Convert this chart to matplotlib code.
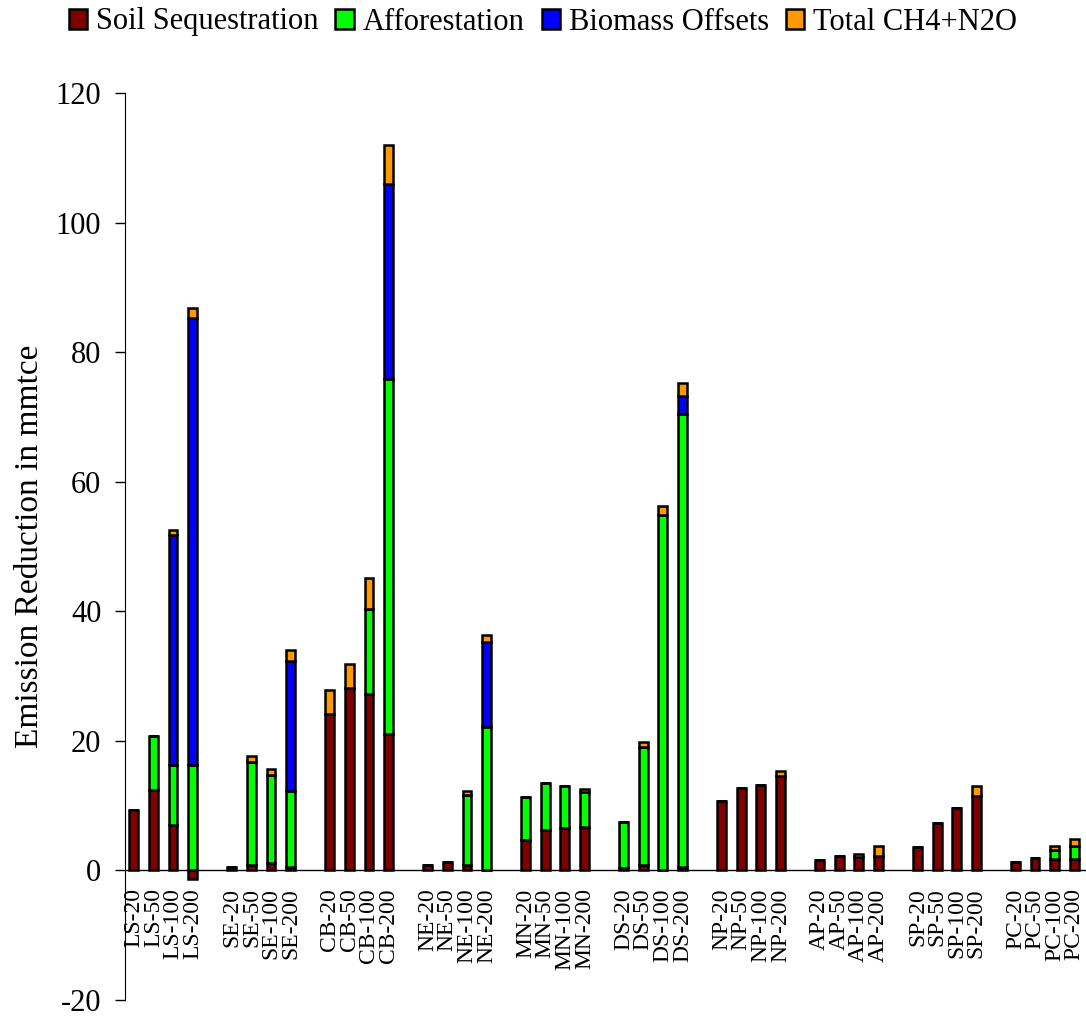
import numpy as np
import matplotlib
matplotlib.use("Agg")
import matplotlib.pyplot as plt

plt.rcParams['font.family'] = ['Liberation Serif', 'DejaVu Serif']
plt.rcParams['axes.unicode_minus'] = False

# regions and scenarios
regions = ['LS', 'SE', 'CB', 'NE', 'MN', 'DS', 'NP', 'AP', 'SP', 'PC']
scenarios = ['20', '50', '100', '200']

# values in mmtce, 4 per region
soil = [9.3, 12.4, 7.0, -1.4,
        0.6, 0.9, 1.1, 0.5,
        24.2, 28.1, 27.2, 21.1,
        0.9, 1.3, 0.8, 0.0,
        4.7, 6.3, 6.5, 6.7,
        0.3, 0.8, 0.0, 0.5,
        10.7, 12.7, 13.2, 14.6,
        1.6, 2.3, 2.1, 2.3,
        3.6, 7.3, 9.6, 11.5,
        1.3, 1.9, 1.7, 1.7]
afforestation = [0, 8.4, 9.2, 16.2,
                 0, 15.8, 13.6, 11.8,
                 0, 0, 13.1, 54.7,
                 0, 0, 10.8, 22.2,
                 6.7, 7.2, 6.5, 5.4,
                 7.1, 18.2, 54.8, 69.9,
                 0, 0, 0, 0,
                 0, 0, 0, 0,
                 0, 0, 0, 0,
                 0, 0, 1.5, 2.1]
biomass = [0, 0, 35.6, 69.0,
           0, 0, 0, 20.1,
           0, 0, 0, 30.1,
           0, 0, 0, 13.0,
           0, 0, 0, 0,
           0, 0, 0, 2.8,
           0, 0, 0, 0,
           0, 0, 0, 0,
           0, 0, 0, 0,
           0, 0, 0, 0]
ch4_n2o = [0, 0, 0.7, 1.6,
           0, 0.9, 1.0, 1.7,
           3.7, 3.8, 4.9, 6.0,
           0, 0, 0.7, 1.1,
           0, 0, 0, 0.5,
           0, 0.8, 1.5, 2.0,
           0, 0, 0, 0.8,
           0, 0, 0.5, 1.4,
           0, 0, 0, 1.5,
           0, 0, 0.6, 1.1]

series = [('Soil Sequestration', soil, '#800000'),
          ('Afforestation', afforestation, '#00ff00'),
          ('Biomass Offsets', biomass, '#0000ff'),
          ('Total CH4+N2O', ch4_n2o, '#ff9900')]

labels = [f'{r}-{s}' for r in regions for s in scenarios]
x = np.array([g * 5 + i for g in range(len(regions)) for i in range(len(scenarios))])

fig = plt.figure(figsize=(10.86, 10.19), dpi=100)
ax = fig.add_axes([0.115, 19 / 1019, 0.885, 907 / 1019])

# stack positives upward and negatives downward
pos_bottom = np.zeros(len(x))
neg_bottom = np.zeros(len(x))
for name, vals, col in series:
    v = np.array(vals, dtype=float)
    bottom = np.where(v >= 0, pos_bottom, neg_bottom)
    ax.bar(x, v, bottom=bottom, width=0.45, color=col, edgecolor='black',
           linewidth=1.8, label=name, zorder=3)
    pos_bottom += np.where(v >= 0, v, 0)
    neg_bottom += np.where(v < 0, v, 0)

ax.set_xlim(-0.46, 48.6)
ax.set_ylim(-20, 120)
ax.set_yticks(np.arange(-20, 121, 20))
ax.tick_params(axis='y', labelsize=22, length=7, width=1, direction='out', pad=10)

ax.spines['top'].set_visible(False)
ax.spines['right'].set_visible(False)
ax.spines['bottom'].set_position(('data', 0))
ax.spines['bottom'].set_linewidth(1)
ax.set_xticks(x)
ax.set_xticklabels(labels, rotation=90, fontsize=17)
ax.tick_params(axis='x', length=0, pad=13)

ax.set_ylabel('Emission Reduction in mmtce', fontsize=24, labelpad=8)

fig.legend(loc='center', bbox_to_anchor=(0.5, 1 - 22 / 1019), ncol=4, frameon=False,
           fontsize=22, handlelength=0.6, handleheight=0.65, handletextpad=0.3,
           columnspacing=0.55, borderpad=0)

fig.savefig('out.png', dpi=100)
